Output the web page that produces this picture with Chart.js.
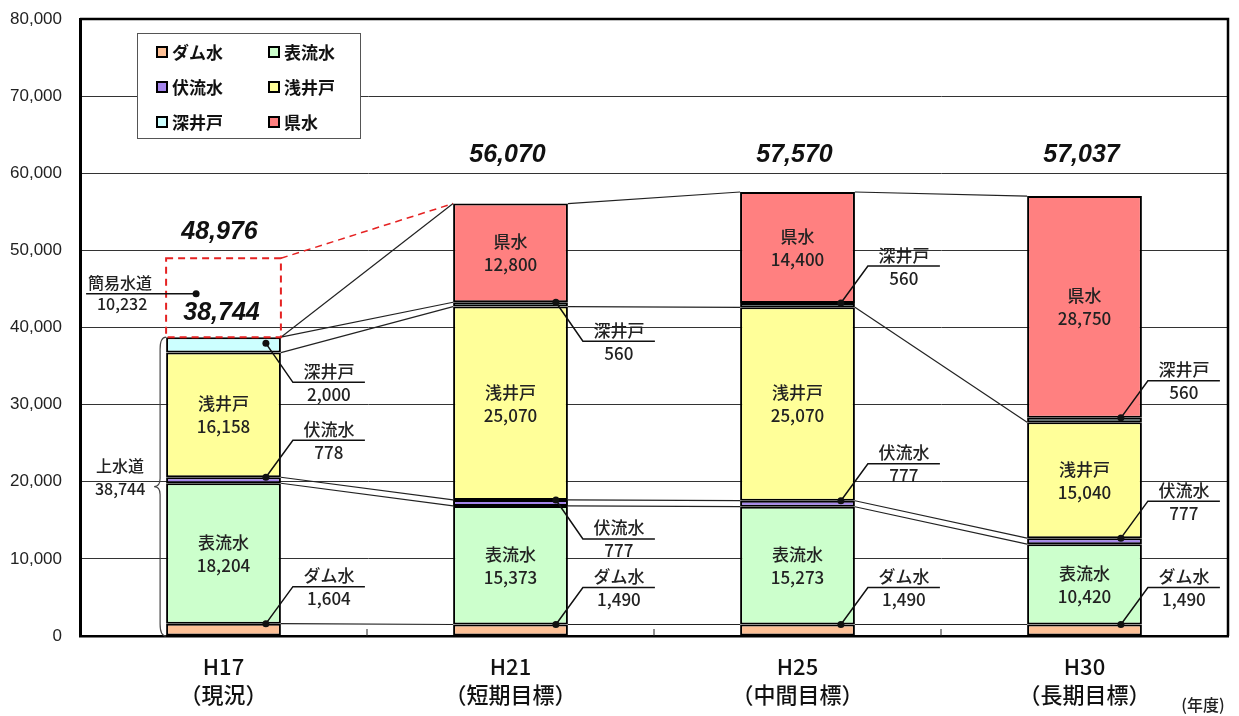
<!DOCTYPE html>
<html><head><meta charset="utf-8">
<script src="https://cdn.jsdelivr.net/npm/chart.js@4/dist/chart.umd.min.js"></script>
<style>html,body{margin:0;padding:0;background:#fff}#wrap{width:1239px;height:716px}</style>
</head><body><div id="wrap"><canvas id="c" width="1239" height="716"></canvas></div>
<script>
// ---- data ----
const categories = [['H17','（現況）'],['H21','（短期目標）'],['H25','（中間目標）'],['H30','（長期目標）']];
const seriesNames = ['ダム水','表流水','伏流水','浅井戸','深井戸','県水'];
const damWater        = [1604, 1490, 1490, 1490];
const surfaceWater    = [18204, 15373, 15273, 10420];
const subsurfaceWater = [778, 777, 777, 777];
const shallowWell     = [16158, 25070, 25070, 15040];
const deepWell        = [2000, 560, 560, 560];
const prefWater       = [null, 12800, 14400, 28750];
const simpleWaterworks = [10232, null, null, null];
const simpleWaterworksName = '簡易水道';
const waterworksName = '上水道';
const yTickValues = [0,10000,20000,30000,40000,50000,60000,70000,80000];
const unitLabel = '(年度)';

const seriesColors = ['#FDC096','#CCFFCC','#A585EC','#FFFF99','#CCFFFF','#FF8080'];
const stackSeries = [damWater, surfaceWater, subsurfaceWater, shallowWell, deepWell, prefWater];
const fmt = v => Number(v).toLocaleString('en-US');
const JP = '"Noto Sans CJK JP", "Noto Sans", sans-serif';
const LBL = '500 17px ' + JP;

function cum(s, i){ let t = 0; for (let k = 0; k <= s; k++) t += stackSeries[k][i] || 0; return t; }

const overlay = {
  id: 'overlay',
  afterDatasetsDraw(chart){
    const ctx = chart.ctx, ys = chart.scales.y, ca = chart.chartArea;
    const m0 = chart.getDatasetMeta(0).data;
    const L = i => m0[i].x - m0[i].width/2, R = i => m0[i].x + m0[i].width/2, C = i => m0[i].x;
    const Y = v => ys.getPixelForValue(v);
    ctx.save();
    // frame top/right
    ctx.strokeStyle = '#000'; ctx.lineWidth = 2.5;
    ctx.beginPath(); ctx.moveTo(ca.left, ca.top); ctx.lineTo(ca.right, ca.top); ctx.lineTo(ca.right, ca.bottom); ctx.stroke();
    // category tick marks
    ctx.lineWidth = 1; ctx.strokeStyle = '#222';
    for (let i = 0; i < categories.length - 1; i++) {
      const bx = (C(i) + C(i+1)) / 2;
      ctx.beginPath(); ctx.moveTo(bx, ca.bottom); ctx.lineTo(bx, ca.bottom - 7); ctx.stroke();
    }
    // connecting lines
    ctx.strokeStyle = '#222'; ctx.lineWidth = 1.2;
    for (let i = 0; i < categories.length - 1; i++) {
      for (let s = 0; s <= 5; s++) {
        if (s === 4 && i > 0) continue;
        ctx.beginPath(); ctx.moveTo(R(i), Y(cum(s, i))); ctx.lineTo(L(i+1), Y(cum(s, i+1))); ctx.stroke();
      }
    }
    // simple waterworks dashed box
    const swBase = cum(5, 0), swTop = swBase + simpleWaterworks[0];
    ctx.strokeStyle = '#E52222'; ctx.lineWidth = 2; ctx.setLineDash([7, 5]);
    ctx.strokeRect(L(0), Y(swTop), R(0) - L(0), Y(swBase) - Y(swTop));
    ctx.lineWidth = 1.5;
    ctx.beginPath(); ctx.moveTo(R(0), Y(swTop)); ctx.lineTo(L(1), Y(cum(5, 1))); ctx.stroke();
    ctx.setLineDash([]);
    // in-bar labels
    ctx.fillStyle = '#222'; ctx.textAlign = 'center'; ctx.textBaseline = 'middle';
    ctx.font = LBL;
    [1, 3, 5].forEach(s => {
      for (let i = 0; i < categories.length; i++) {
        const v = stackSeries[s][i]; if (v == null) continue;
        const yc = Y(cum(s, i) - v / 2);
        ctx.fillText(seriesNames[s], C(i), yc - 11);
        ctx.fillText(fmt(v), C(i), yc + 12);
      }
    });
    // callouts
    const dotInset = [15, 12, 14, 21];
    const downSet = {'0-4': 1, '1-2': 1, '1-4': 1};
    [0, 2, 4].forEach(s => {
      for (let i = 0; i < categories.length; i++) {
        const v = stackSeries[s][i]; if (v == null) continue;
        const dx = R(i) - dotInset[i];
        let dy = Y(cum(s, i));
        if (i === 0 && s === 4) dy = Y(cum(s, i) - v * 0.4);
        const down = downSet[i + '-' + s];
        const ex = dx + 27, ey = dy + (down ? 39 : -37);
        ctx.strokeStyle = '#111'; ctx.lineWidth = 1.5;
        ctx.beginPath(); ctx.moveTo(dx, dy); ctx.lineTo(ex, ey); ctx.lineTo(ex + 72, ey); ctx.stroke();
        ctx.fillStyle = '#111'; ctx.beginPath(); ctx.arc(dx, dy, 3.5, 0, Math.PI * 2); ctx.fill();
        ctx.fillStyle = '#222'; ctx.font = LBL;
        ctx.fillText(seriesNames[s], ex + 36, ey - 11);
        ctx.fillText(fmt(v), ex + 36, ey + 12);
      }
    });
    // simple waterworks callout
    {
      const dx = L(0) + 30, dy = Y(swBase + simpleWaterworks[0] * 0.55);
      ctx.strokeStyle = '#111'; ctx.lineWidth = 1.5;
      ctx.beginPath(); ctx.moveTo(dx - 110, dy); ctx.lineTo(dx, dy); ctx.stroke();
      ctx.fillStyle = '#111'; ctx.beginPath(); ctx.arc(dx, dy, 3.5, 0, Math.PI * 2); ctx.fill();
      ctx.fillStyle = '#222'; ctx.font = '500 16px ' + JP;
      ctx.fillText(simpleWaterworksName, dx - 76, dy - 11);
      ctx.fillText(fmt(simpleWaterworks[0]), dx - 74, dy + 10);
    }
    // waterworks brace
    {
      const top = Y(cum(5, 0)), bot = Y(0), bx = L(0) - 6, mid = (top + bot) / 2;
      ctx.strokeStyle = '#444'; ctx.lineWidth = 1.2;
      ctx.beginPath();
      ctx.moveTo(bx + 6, top);
      ctx.quadraticCurveTo(bx, top, bx, top + 12);
      ctx.lineTo(bx, mid - 8);
      ctx.quadraticCurveTo(bx, mid, bx - 6, mid);
      ctx.quadraticCurveTo(bx, mid, bx, mid + 8);
      ctx.lineTo(bx, bot - 12);
      ctx.quadraticCurveTo(bx, bot, bx + 6, bot);
      ctx.stroke();
      ctx.fillStyle = '#222'; ctx.font = '500 16px ' + JP;
      ctx.fillText(waterworksName, bx - 40, mid - 21);
      ctx.fillText(fmt(cum(5, 0)), bx - 40, mid + 2);
    }
    // totals
    ctx.fillStyle = '#111'; ctx.font = 'italic bold 25px "Liberation Sans", Arial, sans-serif';
    ctx.fillText(fmt(swTop), C(0) - 4, Y(swTop) - 26);
    ctx.fillText(fmt(cum(5, 0)), C(0) - 2, Y(cum(5, 0)) - 24);
    for (let i = 1; i < categories.length; i++) ctx.fillText(fmt(cum(5, i)), C(i) - 3, Y(62300));
    // legend
    const lx = 137.5, ly = 33.5, lw = 223, lh = 105;
    ctx.fillStyle = '#fff'; ctx.fillRect(lx, ly, lw, lh);
    ctx.strokeStyle = '#555'; ctx.lineWidth = 1; ctx.strokeRect(lx, ly, lw, lh);
    ctx.textAlign = 'left'; ctx.font = 'bold 17px ' + JP;
    const colX = [157, 269], rowY = [52, 87, 122];
    for (let k = 0; k < seriesNames.length; k++) {
      const x = colX[k % 2], y = rowY[Math.floor(k / 2)];
      ctx.fillStyle = seriesColors[k]; ctx.fillRect(x, y - 5, 10, 10);
      ctx.strokeStyle = '#000'; ctx.lineWidth = 2; ctx.strokeRect(x, y - 5, 10, 10);
      ctx.fillStyle = '#111'; ctx.fillText(seriesNames[k], x + 15, y + 1);
    }
    // unit
    ctx.textAlign = 'center'; ctx.font = '500 16px ' + JP; ctx.fillStyle = '#222';
    ctx.fillText(unitLabel, 1203, 705);
    ctx.restore();
  }
};

const datasets = stackSeries.map((d, k) => ({
  label: seriesNames[k], data: d, backgroundColor: seriesColors[k],
  borderColor: '#000', borderWidth: 2, borderSkipped: false, stack: 's'
}));
datasets.push({ label: simpleWaterworksName, data: simpleWaterworks, backgroundColor: 'rgba(0,0,0,0)', borderWidth: 0, stack: 's' });

new Chart(document.getElementById('c'), {
  type: 'bar',
  data: { labels: categories, datasets },
  options: {
    responsive: false, animation: false, devicePixelRatio: 1,
    layout: { padding: { top: 19, right: 11, left: 0, bottom: 0 } },
    datasets: { bar: { categoryPercentage: 1, barPercentage: 0.4 } },
    plugins: { legend: { display: false }, tooltip: { enabled: false } },
    scales: {
      x: {
        stacked: true,
        grid: { display: false, drawTicks: false },
        border: { display: true, color: '#000', width: 2.5 },
        ticks: { color: '#111', padding: 17, font: { family: JP, size: 22, weight: '500', lineHeight: 1.25 } },
        afterFit: s => { s.height = 80; s.paddingLeft = 0; s.paddingRight = 0; }
      },
      y: {
        stacked: true, min: 0, max: 80000,
        afterBuildTicks: s => { s.ticks = yTickValues.map(v => ({ value: v })); },
        grid: { color: '#333', lineWidth: 1, drawTicks: false },
        border: { display: true, color: '#000', width: 3 },
        ticks: { color: '#222', padding: 18, font: { family: '"Liberation Sans", Arial, sans-serif', size: 17 },
                 callback: v => fmt(v) },
        afterFit: s => { s.width = 80; s.paddingTop = 0; s.paddingBottom = 0; }
      }
    }
  },
  plugins: [overlay]
});
</script></body></html>
